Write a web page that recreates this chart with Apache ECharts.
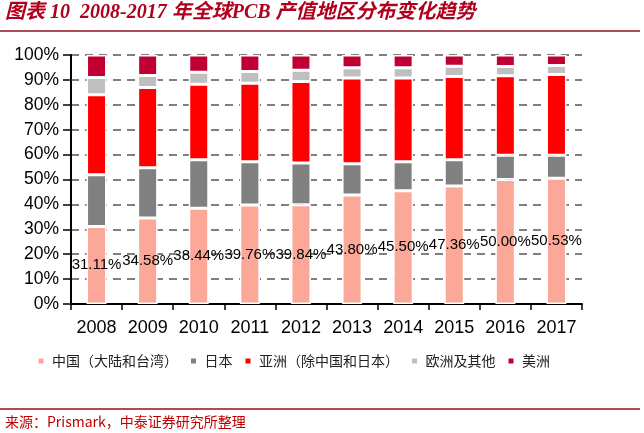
<!DOCTYPE html>
<html><head><meta charset="utf-8">
<script src="https://cdn.jsdelivr.net/npm/echarts@6/dist/echarts.min.js"></script>
<style>html,body{margin:0;padding:0;background:#fff}#c{width:644px;height:433px}</style>
</head><body><div id="c"></div>
<script>
// ---- data (percent share of global PCB output) ----
const years = ['2008','2009','2010','2011','2012','2013','2014','2015','2016','2017'];
const seriesNames = ['中国（大陆和台湾）','日本','亚洲（除中国和日本）','欧洲及其他','美洲'];
const chinaShare   = [31.11, 34.58, 38.44, 39.76, 39.84, 43.80, 45.50, 47.36, 50.00, 50.53];
const japanShare   = [20.8, 20.1, 19.5, 17.4, 16.8, 12.5, 11.6, 10.6, 9.7, 9.2];
const asiaShare    = [32.1, 32.3, 30.3, 31.5, 32.7, 34.5, 33.7, 33.4, 32.0, 32.4];
const europeShare  = [7.0, 4.8, 4.8, 4.7, 4.5, 4.1, 4.1, 4.1, 3.7, 3.7];
const americaShare = [8.99, 8.22, 6.96, 6.64, 6.16, 5.1, 5.1, 4.54, 4.6, 4.17];
const yTicks = { min: 0, max: 100, interval: 10 };

const colors = ['#FBA899','#808080','#FF0000','#BFBFBF','#C00033'];
const allData = [chinaShare, japanShare, asiaShare, europeShare, americaShare];

const chart = echarts.init(document.getElementById('c'), null, {renderer:'canvas'});
const series = seriesNames.map((n,i)=>({
  name: n, type: 'bar', stack: 'total', barWidth: 20,
  data: allData[i],
  itemStyle: { color: colors[i], borderColor: '#fff', borderWidth: 1.5 },
  label: i === 0 ? {
    show: true, position: 'inside', color: '#000', fontSize: 15,
    fontFamily: 'Liberation Sans, Arial, sans-serif',
    formatter: p => p.value.toFixed(2) + '%'
  } : { show: false }
}));

chart.setOption({
  animation: false,
  color: colors,
  title: {
    text: '图表 10  2008-2017 年全球PCB 产值地区分布变化趋势',
    left: 5, top: 3, padding: 0,
    textStyle: { fontSize: 20, fontWeight: 'bold', fontStyle: 'italic', color: '#B0001E',
      fontFamily: "'Liberation Serif','Noto Sans CJK SC',serif" }
  },
  grid: { left: 71, right: 62, top: 55, bottom: 129, containLabel: false },
  legend: {
    data: seriesNames, left: 36.5, top: 354, padding: 0,
    itemWidth: 12, itemHeight: 7, itemGap: 11,
    icon: 'path://M0,0h10v10h-10z',
    textStyle: { fontSize: 14, color: '#222', fontFamily: "'Noto Sans CJK SC',sans-serif" }
  },
  xAxis: {
    type: 'category', data: years,
    axisLine: { lineStyle: { color: '#000', width: 2 } },
    axisTick: { show: true, length: 6, lineStyle: { color: '#000', width: 1.5 } },
    axisLabel: { color: '#000', fontSize: 18, margin: 15, interval: 0, hideOverlap: false,
      fontFamily: 'Liberation Sans, Arial, sans-serif' }
  },
  yAxis: {
    type: 'value', min: yTicks.min, max: yTicks.max, interval: yTicks.interval,
    axisLine: { show: true, lineStyle: { color: '#000', width: 2 } },
    axisTick: { show: true, length: 8, lineStyle: { color: '#000', width: 1.5 } },
    axisLabel: { color: '#000', fontSize: 17.5, margin: 12, formatter: '{value}%',
      fontFamily: 'Liberation Sans, Arial, sans-serif' },
    splitLine: { show: true, lineStyle: { color: '#7F7F7F', width: 2, type: [8, 6] } }
  },
  series: series,
  graphic: [
    { type: 'line', shape: { x1: 0, y1: 31, x2: 640, y2: 31 }, style: { stroke: '#8B1020', lineWidth: 1.5 } },
    { type: 'line', shape: { x1: 0, y1: 409, x2: 640, y2: 409 }, style: { stroke: '#8B1020', lineWidth: 1.5 } },
    { type: 'text', left: 5, top: 415, style: { text: '来源：Prismark，中泰证券研究所整理', fill: '#C00000',
      fontSize: 14, fontFamily: "'Noto Sans CJK SC',sans-serif" } }
  ]
});
</script></body></html>
